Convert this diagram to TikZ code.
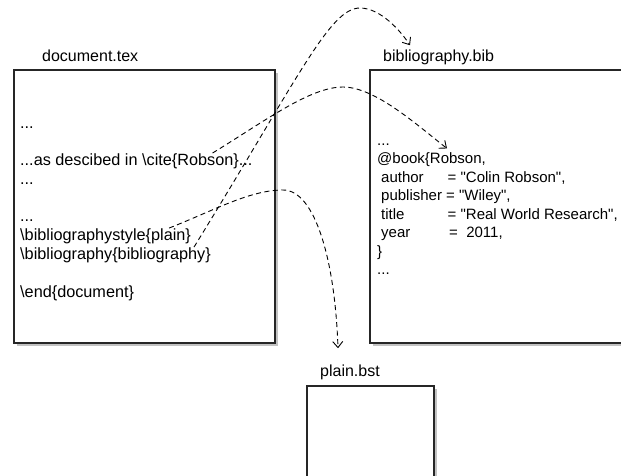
\documentclass[tikz,border=0pt]{standalone}
\usepackage{fontspec}
\setmainfont{Liberation Sans}
\usetikzlibrary{arrows.meta,shadows}

\begin{document}
\begin{tikzpicture}[x=1pt,y=-1pt,
    font=\fontsize{16}{19}\selectfont,
    >={Straight Barb[length=6pt,width=10pt]},
    filebox/.style={draw=black!85,line width=1.2pt,fill=white,
        drop shadow={shadow xshift=2.5pt,shadow yshift=-3pt,opacity=0.4,fill=black!60}},
    line/.style={anchor=base west,inner sep=0pt},
    docline/.style={line,font=\fontsize{16.25}{19}\selectfont},
    bibline/.style={line,font=\fontsize{15}{18}\selectfont},
    link/.style={->,dash pattern=on 5pt off 3.5pt,line width=0.9pt}]

    \useasboundingbox (0,0) rectangle (621,475);

    % the three files
    \node[filebox,minimum width=261pt,minimum height=273pt] (docbox) at (144.5,206.5) {};
    \node[filebox,minimum width=270pt,minimum height=273pt] (bibbox) at (505,206.5) {};
    \node[filebox,minimum width=127pt,minimum height=104pt] (bstbox) at (370.5,438) {};
    \node[line] (doclabel) at (42,61) {document.tex};
    \node[line] (biblabel) at (383,61) {bibliography.bib};
    \node[line] (bstlabel) at (320,376) {plain.bst};

    % document.tex
    \node[docline] (docdotsa) at (20,128) {...};
    \node[docline] (doccite) at (20,165) {...as descibed in \textbackslash cite\{Robson\}...};
    \node[docline] (docdotsb) at (20,184) {...};
    \node[docline] (docdotsc) at (20,221) {...};
    \node[docline] (docstyle) at (20,240) {\textbackslash bibliographystyle\{plain\}};
    \node[docline] (docbib) at (20,259) {\textbackslash bibliography\{bibliography\}};
    \node[docline] (docend) at (20,297) {\textbackslash end\{document\}};

    % bibliography.bib
    \node[bibline] (bibdotsa) at (377,145) {...};
    \node[bibline] (bibbook) at (377,163.5) {@book\{Robson,};
    \node[bibline] (bibauthor) at (381,182) {\makebox[66.5pt][l]{author}= \textquotedbl Colin Robson\textquotedbl,};
    \node[bibline] (bibpublisher) at (381,200.5) {publisher = \textquotedbl Wiley\textquotedbl,};
    \node[bibline] (bibtitle) at (381,219) {\makebox[66.5pt][l]{title}= \textquotedbl Real World Research\textquotedbl,};
    \node[bibline] (bibyear) at (381,237.5) {\makebox[68pt][l]{year}=~~2011,};
    \node[bibline] (bibclose) at (377,256) {\}};
    \node[bibline] (bibdotsb) at (377,274.5) {...};

    % links
    \draw[link] ([xshift=-17pt]docbib.north east) .. controls (300,75) and (330,8) .. (360,8)
        .. controls (380,8) and (400,30) .. ([xshift=27pt,yshift=4pt]biblabel.north west);
    \draw[link] ([xshift=-40pt]doccite.north east) .. controls (265,121) and (310,87) .. (343,87)
        .. controls (375,87) and (417,125) .. ([xshift=70pt,yshift=4pt]bibbook.north west);
    \draw[link] ([xshift=-22pt]docstyle.north east) .. controls (215,210) and (250,190) .. (283,190)
        .. controls (315,190) and (335,260) .. ([xshift=-12pt,yshift=16pt]bstlabel.north);
\end{tikzpicture}
\end{document}
